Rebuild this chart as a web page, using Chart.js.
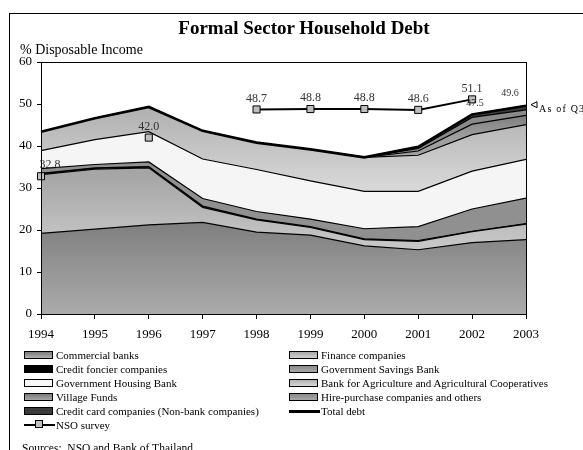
<!DOCTYPE html>
<html>
<head>
<meta charset="utf-8">
<script src="https://cdn.jsdelivr.net/npm/chart.js@4"></script>
<style>
  body { margin: 0; background: #fff; }
  #wrap { position: relative; width: 583px; height: 450px; overflow: hidden; font-family: "Liberation Serif", "Times New Roman", serif; }
  #frame { position: absolute; left: 9px; top: 13px; width: 600px; height: 460px; border-left: 1px solid #000; border-top: 1px solid #000; }
  #chart { position: absolute; left: 0; top: 0; }
  #title { position: absolute; left: 0; width: 608px; top: 17px; text-align: center; font-weight: bold; font-size: 19px; }
  #ytitle { position: absolute; left: 20px; top: 42px; font-size: 14px; }
  #sources { position: absolute; left: 22px; top: 442px; font-size: 11.5px; }
  .lg { position: absolute; font-size: 11px; line-height: 14px; white-space: nowrap; }
  .sw { position: absolute; width: 27px; height: 6px; border: 1px solid #000; }
  .nso { position: absolute; width: 31px; height: 2px; background: #000; }
  .nso i { position: absolute; left: 11px; top: -4px; width: 8px; height: 8px; background: #c0c0c0; border: 1px solid #000; box-sizing: border-box; }
</style>
</head>
<body>
<div id="wrap">
  <div id="frame"></div>
  <canvas id="chart" width="583" height="450"></canvas>
  <div id="title">Formal Sector Household Debt</div>
  <div id="ytitle">% Disposable Income</div>
  <div id="legend"></div>
  <div id="sources">Sources:&nbsp; NSO and Bank of Thailand</div>
</div>
<script>
const years = ['1994', '1995', '1996', '1997', '1998', '1999', '2000', '2001', '2002', '2003'];
const yTicks = [0, 10, 20, 30, 40, 50, 60];

// layers, bottom to top (% of disposable income)
const commercialBanks = [19.2, 20.2, 21.2, 21.8, 19.5, 18.8, 16.2, 15.3, 17.0, 17.7];
const financeCompanies = [14.0, 14.3, 13.6, 3.6, 2.9, 1.8, 1.5, 2.0, 2.6, 3.7];
const creditFoncier = [0.3, 0.3, 0.3, 0.3, 0.2, 0.2, 0.2, 0.2, 0.1, 0.1];
const govSavingsBank = [1.1, 0.8, 1.1, 1.8, 1.8, 1.8, 2.4, 3.3, 5.3, 6.1];
const govHousingBank = [4.3, 5.9, 7.2, 9.4, 10.0, 9.1, 8.9, 8.4, 9.0, 9.2];
const baac = [4.5, 5.1, 5.9, 6.7, 6.4, 7.5, 8.1, 8.6, 8.7, 8.3];
const villageFunds = [0, 0, 0, 0, 0, 0, 0, 1.0, 2.5, 2.2];
const hirePurchase = [0, 0, 0, 0, 0, 0, 0, 0.6, 1.6, 1.3];
const creditCard = [0, 0, 0, 0, 0, 0, 0, 0.4, 0.7, 1.0];
const totalDebt = [43.4, 46.6, 49.3, 43.6, 40.8, 39.2, 37.3, 39.8, 47.5, 49.6];
const nsoSurvey = [32.8, null, 42.0, null, 48.7, 48.8, 48.8, 48.6, 51.1, null];

function grad(stops) {
    return function (context) {
        const chart = context.chart;
        const area = chart.chartArea;
        if (!area) return stops[0][1];
        const g = chart.ctx.createLinearGradient(0, area.top, 0, area.bottom);
        stops.forEach(s => g.addColorStop(s[0], s[1]));
        return g;
    };
}

const layers = [
    { label: 'Commercial banks', data: commercialBanks, bg: grad([[0, '#6e6e6e'], [0.62, '#7d7d7d'], [1, '#ababab']]), css: 'linear-gradient(#7a7a7a,#b0b0b0)' },
    { label: 'Finance companies', data: financeCompanies, bg: grad([[0, '#999'], [0.45, '#a6a6a6'], [0.72, '#c6c6c6'], [1, '#d0d0d0']]), css: 'linear-gradient(#a8a8a8,#d0d0d0)' },
    { label: 'Credit foncier companies', data: creditFoncier, bg: '#000', css: '#000' },
    { label: 'Government Savings Bank', data: govSavingsBank, bg: '#909090', css: 'linear-gradient(#8a8a8a,#a8a8a8)' },
    { label: 'Government Housing Bank', data: govHousingBank, bg: '#f5f5f5', css: '#f8f8f8' },
    { label: 'Bank for Agriculture and Agricultural Cooperatives', data: baac, bg: grad([[0, '#a8a8a8'], [0.2, '#b2b2b2'], [0.5, '#d8d8d8'], [1, '#e0e0e0']]), css: 'linear-gradient(#b0b0b0,#d8d8d8)' },
    { label: 'Village Funds', data: villageFunds, bg: grad([[0, '#5a5a5a'], [0.2, '#7a7a7a'], [0.3, '#a0a0a0']]), css: 'linear-gradient(#7a7a7a,#a8a8a8)' },
    { label: 'Hire-purchase companies and others', data: hirePurchase, bg: '#8a8a8a', css: 'linear-gradient(#8a8a8a,#a8a8a8)' },
    { label: 'Credit card companies (Non-bank companies)', data: creditCard, bg: '#3c3c3c', css: '#3a3a3a' }
];

const datasets = layers.map((l, i) => ({
    label: l.label,
    data: l.data,
    stack: 'debt',
    backgroundColor: l.bg,
    borderColor: '#000',
    borderWidth: 1.2,
    pointRadius: 0,
    tension: 0,
    fill: i === 0 ? 'origin' : '-1'
}));

datasets.push({
    label: 'Total debt',
    data: totalDebt,
    stack: 'total',
    borderColor: '#000',
    borderWidth: 2.6,
    pointRadius: 0,
    fill: false,
    order: -1
});

datasets.push({
    label: 'NSO survey',
    data: nsoSurvey,
    stack: 'nso',
    borderColor: '#000',
    borderWidth: 2,
    pointStyle: 'rect',
    pointRadius: 5,
    pointBackgroundColor: '#bdbdbd',
    pointBorderColor: '#000',
    pointBorderWidth: 1,
    spanGaps: false,
    fill: false,
    order: -2
});

// offsets for value labels
const nsoLabelDx = [9, 0, 0, 0, 0, 0, 0, 0, 0, 0];
const totalLabelAt = { 8: [3, -6], 9: [-16, -7] };

const labelPlugin = {
    id: 'valueLabels',
    afterDatasetsDraw(chart) {
        const ctx = chart.ctx;
        const xs = chart.scales.x, ys = chart.scales.y;
        const a = chart.chartArea;
        ctx.save();
        ctx.strokeStyle = '#000';
        ctx.lineWidth = 1;
        ctx.strokeRect(a.left + 0.5, a.top + 0.5, a.right - a.left, a.bottom - a.top);

        ctx.fillStyle = '#333';
        ctx.textAlign = 'center';
        ctx.textBaseline = 'bottom';
        ctx.font = '12px "Liberation Serif"';
        nsoSurvey.forEach((v, i) => {
            if (v == null) return;
            ctx.fillText(v.toFixed(1), xs.getPixelForValue(i) + nsoLabelDx[i], ys.getPixelForValue(v) - 5);
        });
        ctx.font = '10px "Liberation Serif"';
        Object.keys(totalLabelAt).forEach(k => {
            const i = +k, d = totalLabelAt[k];
            ctx.fillText(totalDebt[i].toFixed(1), xs.getPixelForValue(i) + d[0], ys.getPixelForValue(totalDebt[i]) + d[1]);
        });

        // "As of Q3" marker at the last total value
        const px = xs.getPixelForValue(9), py = ys.getPixelForValue(totalDebt[9]);
        ctx.beginPath();
        ctx.moveTo(px + 5, py - 1);
        ctx.lineTo(px + 11, py - 4);
        ctx.lineTo(px + 11, py + 2);
        ctx.closePath();
        ctx.fillStyle = '#fff';
        ctx.fill();
        ctx.lineWidth = 1;
        ctx.stroke();
        ctx.fillStyle = '#000';
        ctx.textAlign = 'left';
        ctx.textBaseline = 'middle';
        ctx.font = '10px "Liberation Serif"';
        ctx.letterSpacing = '1.2px';
        ctx.fillText('As of Q3', px + 13, py + 4);
        ctx.restore();
    }
};

const chart = new Chart(document.getElementById('chart'), {
    type: 'line',
    data: { labels: years, datasets: datasets },
    options: {
        responsive: false,
        animation: false,
        layout: { padding: { left: 10, right: 57, top: 62, bottom: 0 } },
        plugins: { legend: { display: false }, tooltip: { enabled: false } },
        elements: { line: { tension: 0 } },
        scales: {
            x: {
                grid: { drawOnChartArea: false, color: '#000', tickLength: 5 },
                border: { color: '#000', width: 1 },
                ticks: { color: '#000', font: { family: 'Liberation Serif', size: 13 }, padding: 8, maxRotation: 0 },
                afterFit(scale) { scale.height = 136; }
            },
            y: {
                stacked: true,
                min: 0,
                max: 60,
                afterBuildTicks(scale) { scale.ticks = yTicks.map(v => ({ value: v })); },
                grid: { drawOnChartArea: false, color: '#000', tickLength: 4 },
                border: { color: '#000', width: 1 },
                ticks: { color: '#000', font: { family: 'Liberation Serif', size: 13 }, padding: 5 },
                afterFit(scale) { scale.width = 31; }
            }
        }
    },
    plugins: [labelPlugin]
});

// two-column legend built from the datasets
const legend = document.getElementById('legend');
const rowTop = 348, rowStep = 14;
const order = layers.map(l => l.label).concat(['Total debt', 'NSO survey']);
order.forEach((name, i) => {
    const col = i % 2, row = Math.floor(i / 2);
    const x = col === 0 ? 24 : 289;
    const y = rowTop + row * rowStep;
    const layer = layers.find(l => l.label === name);
    if (layer) {
        const sw = document.createElement('div');
        sw.className = 'sw';
        sw.style.left = x + 'px';
        sw.style.top = (y + 3) + 'px';
        sw.style.background = layer.css;
        legend.appendChild(sw);
    } else if (name === 'Total debt') {
        const ln = document.createElement('div');
        ln.className = 'nso';
        ln.style.left = x + 'px';
        ln.style.top = (y + 6) + 'px';
        ln.style.height = '3px';
        legend.appendChild(ln);
    } else {
        const ln = document.createElement('div');
        ln.className = 'nso';
        ln.style.left = x + 'px';
        ln.style.top = (y + 6) + 'px';
        ln.innerHTML = '<i></i>';
        legend.appendChild(ln);
    }
    const t = document.createElement('div');
    t.className = 'lg';
    t.textContent = name;
    t.style.left = (x + 32) + 'px';
    t.style.top = y + 'px';
    legend.appendChild(t);
});
</script>
</body>
</html>
